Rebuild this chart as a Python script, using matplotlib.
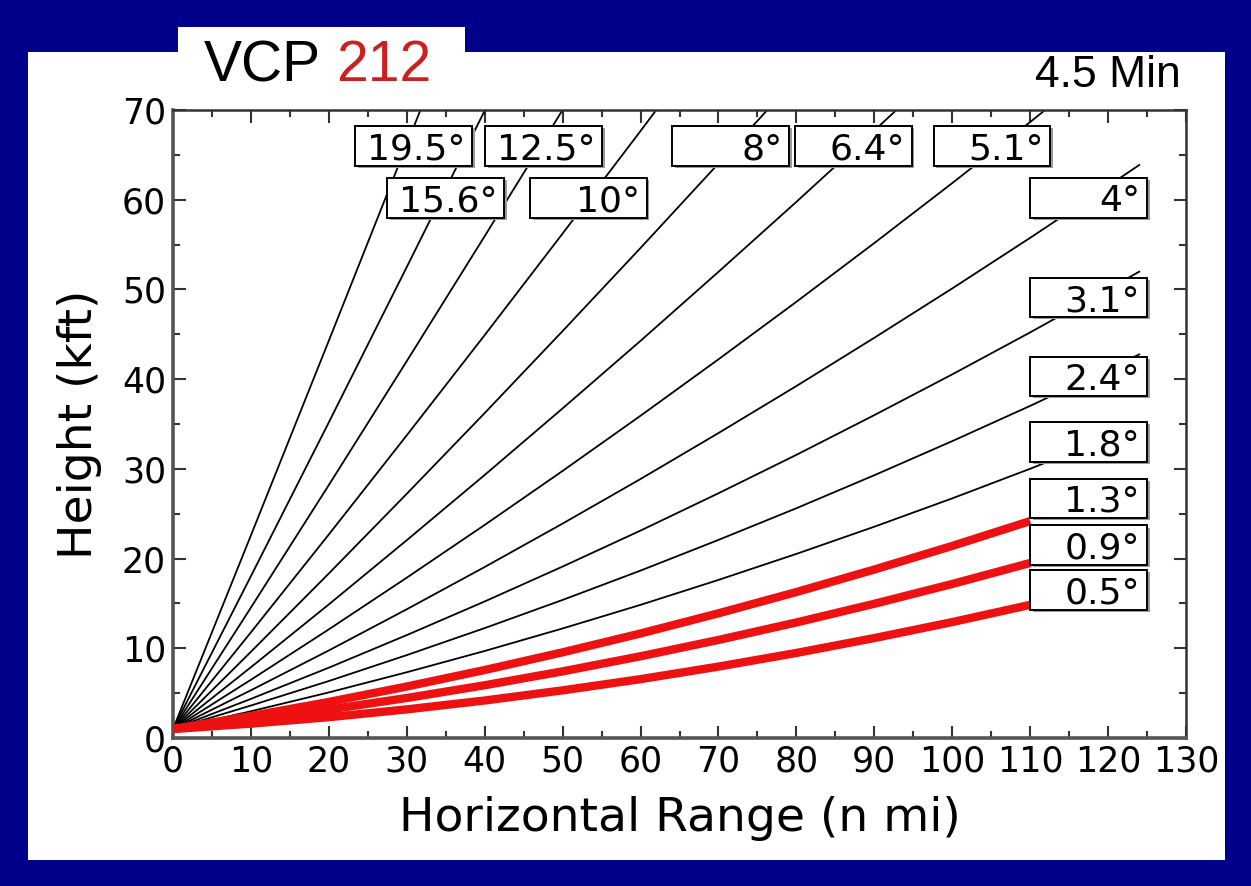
import matplotlib.pyplot as plt
from matplotlib.patches import Rectangle
from matplotlib.ticker import MultipleLocator

# horizontal range (n mi) of the points read along every beam
rng = [0, 10, 20, 30, 40, 50, 60, 70, 80, 90, 100, 110, 120, 124]

# beam centre height (kft) read at those ranges, one list per elevation
h_0_5 = [1.0, 1.6, 2.32, 3.19, 4.18, 5.31, 6.56, 7.96, 9.48, 11.14, 12.92, 14.84]
h_0_9 = [1.0, 2.02, 3.17, 4.46, 5.88, 7.43, 9.11, 10.93, 12.88, 14.96, 17.17, 19.51]
h_1_3 = [1.0, 2.45, 4.02, 5.74, 7.58, 9.55, 11.65, 13.90, 16.27, 18.78, 21.41, 24.18]
h_1_8 = [1.0, 2.98, 5.08, 7.33, 9.70, 12.21, 14.84, 17.62, 20.52, 23.55, 26.71, 30.01, 33.45, 34.86]
h_2_4 = [1.0, 3.62, 6.35, 9.24, 12.25, 15.39, 18.66, 22.08, 25.61, 29.29, 33.09, 37.02, 41.10, 42.76]
h_3_1 = [1.0, 4.36, 7.84, 11.47, 15.22, 19.11, 23.12, 27.28, 31.56, 35.99, 40.53, 45.21, 50.03, 51.98]
h_4_0 = [1.0, 5.32, 9.76, 14.35, 19.06, 23.90, 28.87, 33.99, 39.23, 44.61, 50.11, 55.75, 61.53, 63.87]
h_5_1 = [1.0, 6.49, 12.11, 17.87, 23.75, 29.77, 35.92, 42.21, 48.62, 55.17, 61.85, 68.66, 75.61]
h_6_4 = [1.0, 7.89, 14.89, 22.05, 29.32, 36.74, 44.27, 51.96, 59.76, 67.71, 75.78]
h_8_0 = [1.0, 9.61, 18.34, 27.22, 36.22, 45.36, 54.62, 64.03, 73.55]
h_10_0 = [1.0, 11.78, 22.69, 33.74, 44.91, 56.23, 67.66, 79.25]
h_12_5 = [1.0, 14.54, 28.20, 42.01, 55.94, 70.01, 84.20]
h_15_6 = [1.0, 18.04, 35.19, 52.50, 69.93, 87.49]
h_19_5 = [1.0, 22.59, 44.29, 66.15, 88.13]

labels = ['0.5°', '0.9°', '1.3°', '1.8°', '2.4°', '3.1°', '4°',
          '5.1°', '6.4°', '8°', '10°', '12.5°', '15.6°', '19.5°']
beams = [h_0_5, h_0_9, h_1_3, h_1_8, h_2_4, h_3_1, h_4_0,
         h_5_1, h_6_4, h_8_0, h_10_0, h_12_5, h_15_6, h_19_5]
red_beams = ['0.5°', '0.9°', '1.3°']

# label box lower-left corners (data units)
box_pos = {'19.5°': (23.4, 63.8), '12.5°': (40.1, 63.8), '8°': (64.1, 63.8),
           '6.4°': (79.8, 63.8), '5.1°': (97.6, 63.8), '15.6°': (27.5, 58.0),
           '10°': (45.8, 58.0), '4°': (110.0, 58.0), '3.1°': (110.0, 46.9),
           '2.4°': (110.0, 38.1), '1.8°': (110.0, 30.8), '1.3°': (110.0, 24.5),
           '0.9°': (110.0, 19.3), '0.5°': (110.0, 14.3)}
box_w, box_h = 15.0, 4.4

W, H = 1251, 886
navy = '#00008a'

fig = plt.figure(figsize=(W / 100, H / 100), dpi=100, facecolor=navy)

# white panel and title tab
fig.patches.append(Rectangle((28 / W, 26 / H), (1225 - 28) / W, (860 - 52) / H,
                             transform=fig.transFigure, facecolor='white',
                             edgecolor='none', zorder=-2))
fig.patches.append(Rectangle((178 / W, 830 / H), (465 - 178) / W, (859 - 830) / H,
                             transform=fig.transFigure, facecolor='white',
                             edgecolor='none', zorder=-2))

t1 = fig.text(204 / W, 1 - 93 / H, 'VCP', fontsize=41, family='Liberation Sans',
              color='black', va='bottom', ha='left')
fig.add_artist(plt.Annotation('212', xy=(1, 0), xycoords=t1, xytext=(11, 0),
                              textcoords='offset points', fontsize=41,
                              family='Liberation Sans', color='#cc1f1f',
                              va='bottom', ha='left', annotation_clip=False))
fig.text(1181 / W, 1 - 96 / H, '4.5 Min', fontsize=32, family='Liberation Sans',
         color='black', va='bottom', ha='right')

ax = fig.add_axes([173 / W, 1 - 738 / H, (1186 - 173) / W, (738 - 110) / H])
ax.set_facecolor('white')

for lab, h in zip(labels, beams):
    x = rng[:len(h)]
    if lab in red_beams:
        ax.plot(x, h, color='#ee1111', lw=6, solid_capstyle='butt', zorder=3)
    else:
        ax.plot(x, h, color='black', lw=1.3, zorder=2)

for lab in labels:
    x0, y0 = box_pos[lab]
    ax.add_patch(Rectangle((x0 + 0.35, y0 - 0.25), box_w, box_h, facecolor='#9a9a9a',
                           edgecolor='none', zorder=4))
    ax.add_patch(Rectangle((x0, y0), box_w, box_h, facecolor='white',
                           edgecolor='black', lw=1.4, zorder=5))
    ax.text(x0 + box_w - 0.9, y0 + box_h / 2, lab, fontsize=26, ha='right',
            va='center_baseline', zorder=6)

ax.set_xlim(0, 130)
ax.set_ylim(0, 70)
ax.xaxis.set_major_locator(MultipleLocator(10))
ax.xaxis.set_minor_locator(MultipleLocator(5))
ax.yaxis.set_major_locator(MultipleLocator(10))
ax.yaxis.set_minor_locator(MultipleLocator(5))
ax.tick_params(which='both', direction='in', top=True, right=True, width=1.5,
               color='#333333')
ax.tick_params(which='major', length=9, labelsize=25, pad=5)
ax.tick_params(which='minor', length=5)
for side in ['left', 'bottom']:
    ax.spines[side].set_linewidth(2.6)
    ax.spines[side].set_color('#555555')
for side in ['top', 'right']:
    ax.spines[side].set_linewidth(1.8)
    ax.spines[side].set_color('#333333')

ax.set_xlabel('Horizontal Range (n mi)', fontsize=34, labelpad=12)
ax.set_ylabel('Height (kft)', fontsize=34, labelpad=14)

fig.savefig('out.png', dpi=100, facecolor=navy)
